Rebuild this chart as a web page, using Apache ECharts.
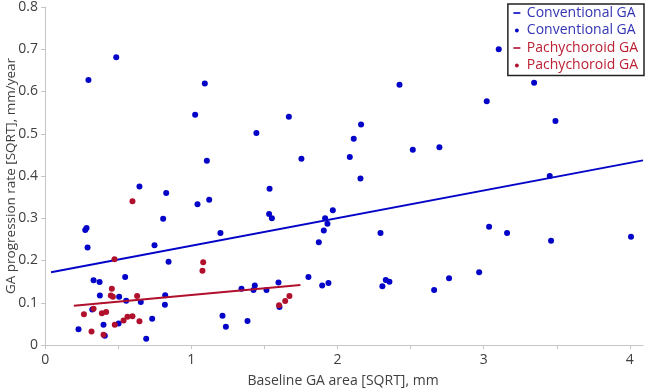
<!DOCTYPE html>
<html>
<head>
<meta charset="utf-8">
<script src="https://cdn.jsdelivr.net/npm/echarts@6/dist/echarts.min.js"></script>
<style>
html,body{margin:0;padding:0;background:#fff;}
#c{width:647px;height:389px;}
</style>
</head>
<body>
<div id="c"></div>
<script>
// ---- data ----
var convX = [0.228,0.274,0.283,0.290,0.296,0.331,0.322,0.372,0.374,0.399,0.408,0.486,0.506,0.502,0.547,0.554,0.645,0.654,0.691,0.732,0.748,0.807,0.828,0.821,0.819,0.844,1.026,1.042,1.092,1.106,1.122,1.199,1.213,1.236,1.343,1.384,1.425,1.434,1.445,1.514,1.535,1.532,1.551,1.596,1.603,1.667,1.753,1.801,1.872,1.895,1.906,1.915,1.931,1.938,1.968,2.084,2.111,2.161,2.157,2.294,2.307,2.330,2.355,2.424,2.515,2.661,2.697,2.763,2.969,3.021,3.037,3.103,3.160,3.345,3.452,3.461,3.491,4.008];
var convY = [0.037,0.272,0.277,0.231,0.627,0.153,0.084,0.149,0.117,0.048,0.022,0.681,0.114,0.051,0.161,0.105,0.375,0.102,0.015,0.062,0.236,0.299,0.360,0.118,0.095,0.197,0.545,0.333,0.619,0.436,0.344,0.265,0.069,0.043,0.133,0.057,0.130,0.141,0.502,0.130,0.370,0.310,0.300,0.148,0.090,0.540,0.441,0.161,0.243,0.141,0.271,0.300,0.287,0.147,0.319,0.445,0.488,0.522,0.394,0.265,0.139,0.154,0.150,0.616,0.462,0.130,0.468,0.158,0.172,0.577,0.280,0.700,0.265,0.621,0.400,0.247,0.530,0.256];
var pachyX = [0.265,0.317,0.331,0.388,0.399,0.417,0.456,0.449,0.463,0.474,0.476,0.536,0.563,0.597,0.597,0.629,0.645,1.076,1.081,1.600,1.642,1.671];
var pachyY = [0.073,0.032,0.086,0.075,0.024,0.078,0.133,0.117,0.114,0.203,0.048,0.058,0.067,0.068,0.340,0.116,0.056,0.176,0.196,0.094,0.104,0.116];
// fitted lines (end points)
var convFitX = [0.04, 4.09];
var convFitY = [0.172, 0.437];
var pachyFitX = [0.196, 1.746];
var pachyFitY = [0.093, 0.142];
// axes
var xTickLabels = [0, 1, 2, 3, 4];
var xTickMarks = [0, 0.5, 1, 1.5, 2, 2.5, 3, 3.5, 4];
var legendLabels = {
  convLine: 'Conventional GA',
  convPts: 'Conventional GA',
  pachyLine: 'Pachychoroid GA',
  pachyPts: 'Pachychoroid GA'
};

function pairs(xs, ys){ return xs.map(function(x,i){ return [x, ys[i]]; }); }

var BLUE = '#0404c8';
var BLUE_TXT = '#3434b4';
var RED = '#b0102c';
var RED_TXT = '#bb2034';
var FONT = 'Open Sans';
var lineIcon = 'path://M0,0 M10,10 M1.5,4.2 L8.5,4.2 L8.5,5.8 L1.5,5.8 Z';
var dotIcon = 'path://M0,0 M10,10 M5,3.1 A1.9,1.9 0 1 1 5,6.9 A1.9,1.9 0 1 1 5,3.1 Z';

var chart = echarts.init(document.getElementById('c'), null, {renderer: 'canvas'});
chart.setOption({
  animation: false,
  backgroundColor: '#fff',
  textStyle: {fontFamily: FONT},
  grid: {left: 43, right: 4, top: 7, bottom: 44, containLabel: false, outerBoundsMode: 'none'},
  legend: {
    orient: 'vertical',
    right: 3, top: 4,
    borderColor: '#222', borderWidth: 1.5,
    padding: [1, 6, 2, 4],
    itemGap: 1.5,
    itemWidth: 10, itemHeight: 10,
    textStyle: {fontFamily: FONT, fontSize: 14, lineHeight: 16},
    formatter: function(n){ return legendLabels[n]; },
    data: [
      {name: 'convLine', icon: lineIcon, textStyle: {color: BLUE_TXT}},
      {name: 'convPts', icon: dotIcon, textStyle: {color: BLUE_TXT}},
      {name: 'pachyLine', icon: lineIcon, textStyle: {color: RED_TXT}},
      {name: 'pachyPts', icon: dotIcon, textStyle: {color: RED_TXT}}
    ]
  },
  xAxis: {
    type: 'value', min: -0.015, max: 4.09,
    name: 'Baseline GA area [SQRT], mm',
    nameLocation: 'middle', nameGap: 29, nameMoveOverlap: false,
    nameTextStyle: {fontFamily: FONT, fontSize: 14, color: '#404040'},
    axisLine: {show: true, lineStyle: {color: '#c4c4c4', width: 1}},
    axisTick: {show: true, length: 4, customValues: xTickMarks, lineStyle: {color: '#c4c4c4'}},
    axisLabel: {customValues: xTickLabels, fontFamily: FONT, fontSize: 14, color: '#404040', margin: 8},
    splitLine: {show: false}
  },
  yAxis: {
    type: 'value', min: 0, max: 0.8, interval: 0.1,
    name: 'GA progression rate [SQRT], mm/year',
    nameLocation: 'middle', nameGap: 25, nameMoveOverlap: false,
    nameTextStyle: {fontFamily: FONT, fontSize: 13.5, color: '#404040'},
    axisLine: {show: true, lineStyle: {color: '#c4c4c4', width: 1}},
    axisTick: {show: true, length: 4, lineStyle: {color: '#c4c4c4'}},
    axisLabel: {fontFamily: FONT, fontSize: 14, color: '#404040', margin: 5},
    splitLine: {show: false}
  },
  series: [
    {name: 'convLine', type: 'line', data: pairs(convFitX, convFitY), showSymbol: false, symbol: 'none',
     color: BLUE, lineStyle: {color: BLUE, width: 2}, z: 3},
    {name: 'convPts', type: 'scatter', data: pairs(convX, convY), symbolSize: 6,
     color: BLUE, itemStyle: {color: BLUE, opacity: 1}, z: 2},
    {name: 'pachyLine', type: 'line', data: pairs(pachyFitX, pachyFitY), showSymbol: false, symbol: 'none',
     color: RED, lineStyle: {color: RED, width: 2}, z: 3},
    {name: 'pachyPts', type: 'scatter', data: pairs(pachyX, pachyY), symbolSize: 6,
     color: RED, itemStyle: {color: RED, opacity: 1}, z: 4}
  ]
});
</script>
</body>
</html>
